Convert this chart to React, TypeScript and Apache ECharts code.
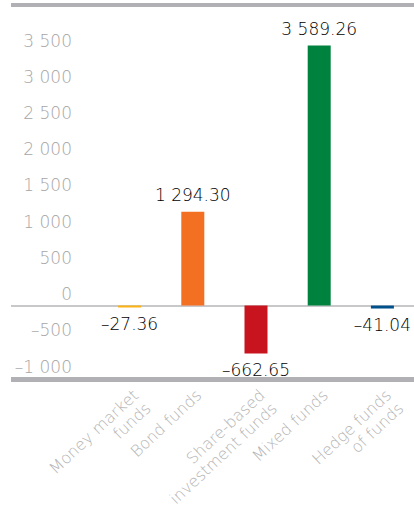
import { useEffect, useRef } from "react";
import * as echarts from "echarts";

// Net flows by fund type
const categories = [
  "Money market\nfunds",
  "Bond funds",
  "Share-based\ninvestment funds",
  "Mixed funds",
  "Hedge funds\nof funds",
];
const netFlows = [-27.36, 1294.3, -662.65, 3589.26, -41.04];
const barColors = ["#fbb414", "#f36f21", "#c8141e", "#00823f", "#00508c"];
const yMin = -1000;
const yMax = 3500;
const yStep = 500;

const FONT = "DejaVu Sans";
const FRAME_GREY = "#b1b1b5";

function groupThousands(intPart: string): string {
  return intPart.replace(/\B(?=(\d{3})+(?!\d))/g, " ");
}

function formatNumber(v: number, decimals: number): string {
  const sign = v < 0 ? "\u2013" : "";
  const [i, d] = Math.abs(v).toFixed(decimals).split(".");
  return sign + groupThousands(i) + (d ? "." + d : "");
}

export default function App() {
  const ref = useRef<HTMLDivElement>(null);

  useEffect(() => {
    if (!ref.current) return;
    const chart = echarts.init(ref.current, undefined, { renderer: "svg" });

    chart.setOption({
      animation: false,
      backgroundColor: "#ffffff",
      grid: {
        left: 98,
        right: 0,
        top: 52,
        bottom: 133,
        outerBoundsMode: "none",
      },
      xAxis: {
        type: "category",
        data: categories,
        axisLine: { show: false, onZero: false },
        axisTick: { show: false },
        axisLabel: {
          interval: 0,
          rotate: 43,
          align: "right",
          verticalAlign: "top",
          margin: 8,
          color: "#b4b4b4",
          fontSize: 16,
          fontWeight: 200,
          lineHeight: 18,
          fontFamily: FONT,
        },
      },
      yAxis: {
        type: "value",
        min: yMin,
        max: yMax,
        interval: yStep,
        splitLine: { show: false },
        axisLine: { show: false },
        axisTick: { show: false },
        axisLabel: {
          margin: 26,
          color: "#a6a6a6",
          fontSize: 17,
          fontWeight: 200,
          fontFamily: FONT,
          verticalAlign: "bottom",
          padding: [0, 0, 3, 0],
          formatter: (v: number) => formatNumber(v, 0),
        },
      },
      series: [
        {
          type: "bar",
          barWidth: 23,
          clip: false,
          z: 3,
          data: netFlows.map((v, i) => ({
            value: v,
            itemStyle: { color: barColors[i] },
            label: { position: v >= 0 ? "top" : "bottom" },
          })),
          label: {
            show: true,
            distance: 8,
            color: "#000000",
            fontSize: 17,
            fontWeight: 200,
            fontFamily: FONT,
            formatter: (p: any) => formatNumber(p.value, 2),
          },
        },
      ],
    });

    const zeroY = chart.convertToPixel({ yAxisIndex: 0 }, 0) as number;
    const width = chart.getWidth();
    chart.setOption({
      graphic: [
        {
          type: "rect",
          id: "frameTop",
          shape: { x: 11, y: 3, width: width - 11, height: 4 },
          style: { fill: FRAME_GREY },
          silent: true,
        },
        {
          type: "rect",
          id: "frameBottom",
          shape: { x: 11, y: 377, width: width - 11, height: 5 },
          style: { fill: FRAME_GREY },
          silent: true,
        },
        {
          type: "rect",
          id: "zeroLine",
          z: 1,
          shape: { x: 11, y: zeroY - 0.5, width: width - 11, height: 2 },
          style: { fill: "#c8c8ca" },
          silent: true,
        },
      ],
    });

    return () => chart.dispose();
  }, []);

  return (
    <div
      ref={ref}
      style={{ position: "absolute", left: 0, top: 0, width: 414, height: 511 }}
    />
  );
}
